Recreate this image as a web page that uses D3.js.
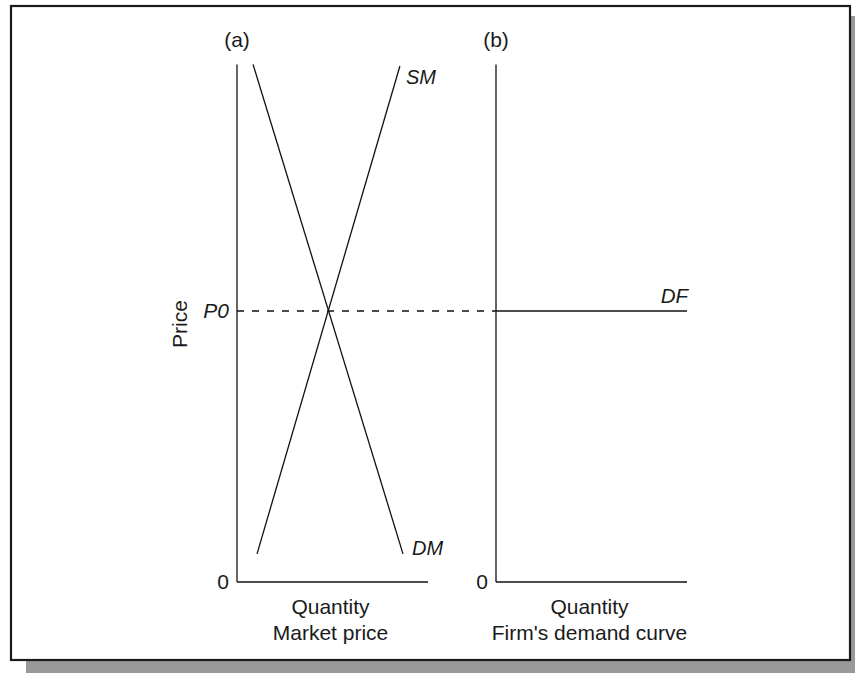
<!DOCTYPE html>
<html>
<head>
<meta charset="utf-8">
<script src="https://cdn.jsdelivr.net/npm/d3@7"></script>
<style>
  html, body { margin: 0; padding: 0; background: #fff; }
  svg { display: block; }
  text { font-family: "Liberation Sans", Arial, sans-serif; fill: #1a1a1a; }
</style>
</head>
<body>
<svg id="chart" width="855" height="673"></svg>
<script>
// ---- data ----
const priceP0 = 5;            // equilibrium price
const axisTop = 9.55;         // top of price axes
const demandMarket = [{q: 0.84, p: 9.55}, {q: 8.69, p: 0.52}];   // DM
const supplyMarket = [{q: 1.05, p: 0.52}, {q: 8.53, p: 9.52}];   // SM
const demandFirm = [{q: 0, p: 5}, {q: 10, p: 5}];                // DF
const panelTitles = ["(a)", "(b)"];
const xLabels = [["Quantity", "Market price"], ["Quantity", "Firm's demand curve"]];
const curveLabels = ["SM", "DM", "DF"];
const yLabel = "Price";
const p0Label = "P0";
const zeroLabel = "0";

// ---- drawing ----
const svg = d3.select("#chart");

// shadow + frame
svg.append("rect").attr("x", 26).attr("y", 16).attr("width", 840).attr("height", 670).attr("fill", "#999");
svg.append("rect").attr("x", 11).attr("y", 6).attr("width", 839).attr("height", 654)
  .attr("fill", "#fff").attr("stroke", "#1a1a1a").attr("stroke-width", 2.2);

const y = d3.scaleLinear().domain([0, 10]).range([582, 40]);
const xa = d3.scaleLinear().domain([0, 10]).range([237, 428]);
const xb = d3.scaleLinear().domain([0, 10]).range([496, 687]);

const lineGen = (xs) => d3.line().x(d => xs(d.q)).y(d => y(d.p));

function drawAxes(xs, title, labels) {
  const g = svg.append("g");
  g.append("line").attr("x1", xs(0)).attr("x2", xs(0)).attr("y1", y(0)).attr("y2", y(axisTop))
    .attr("stroke", "#111").attr("stroke-width", 1.3);
  g.append("line").attr("x1", xs(0)).attr("x2", xs(10)).attr("y1", y(0)).attr("y2", y(0))
    .attr("stroke", "#111").attr("stroke-width", 1.3);
  g.append("text").attr("x", xs(0)).attr("y", 47).attr("text-anchor", "middle")
    .attr("font-size", 21).text(title);
  g.append("text").attr("x", xs(0) - 8).attr("y", y(0) + 7).attr("text-anchor", "end")
    .attr("font-size", 21).text(zeroLabel);
  labels.forEach((l, i) => {
    g.append("text").attr("x", (xs(0) + xs(10)) / 2 - 2).attr("y", 614 + i * 26)
      .attr("text-anchor", "middle").attr("font-size", 21).text(l);
  });
}
drawAxes(xa, panelTitles[0], xLabels[0]);
drawAxes(xb, panelTitles[1], xLabels[1]);

// dashed P0 line
svg.append("line").attr("x1", xa(0)).attr("x2", xb(0)).attr("y1", y(priceP0)).attr("y2", y(priceP0))
  .attr("stroke", "#111").attr("stroke-width", 1.3).attr("stroke-dasharray", "7,8");

// curves
svg.append("path").datum(demandMarket).attr("d", lineGen(xa)).attr("fill", "none").attr("stroke", "#111").attr("stroke-width", 1.3);
svg.append("path").datum(supplyMarket).attr("d", lineGen(xa)).attr("fill", "none").attr("stroke", "#111").attr("stroke-width", 1.3);
svg.append("path").datum(demandFirm).attr("d", lineGen(xb)).attr("fill", "none").attr("stroke", "#111").attr("stroke-width", 1.3);

// curve labels
svg.append("text").attr("x", xa(supplyMarket[1].q) + 6).attr("y", 84).attr("font-style", "italic").attr("font-size", 20).text(curveLabels[0]);
svg.append("text").attr("x", xa(demandMarket[1].q) + 9).attr("y", 555).attr("font-style", "italic").attr("font-size", 20).text(curveLabels[1]);
svg.append("text").attr("x", xb(10) + 1).attr("y", y(priceP0) - 8).attr("text-anchor", "end").attr("font-style", "italic").attr("font-size", 20.5).text(curveLabels[2]);

// P0 label
svg.append("text").attr("x", xa(0) - 8).attr("y", y(priceP0) + 7).attr("text-anchor", "end").attr("font-style", "italic").attr("font-size", 21).text(p0Label);

// y label
svg.append("text").attr("transform", `translate(187,${y(priceP0) + 13}) rotate(-90)`).attr("text-anchor", "middle").attr("font-size", 21).text(yLabel);
</script>
</body>
</html>
